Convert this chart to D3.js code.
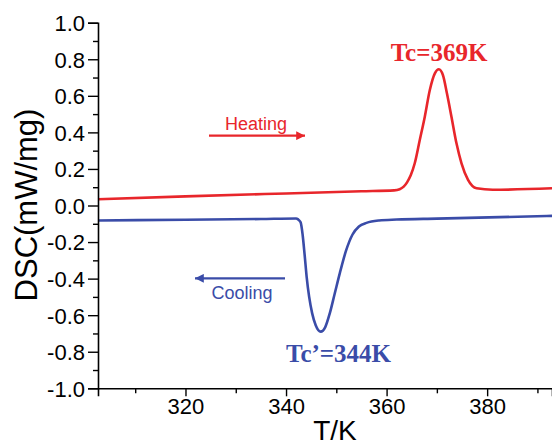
<!DOCTYPE html>
<html><head><meta charset="utf-8">
<script src="https://cdn.jsdelivr.net/npm/d3@7"></script>
<style>html,body{margin:0;padding:0;background:#fff;}svg{display:block;}</style>
</head><body>
<svg id="c" width="552" height="446"></svg>
<script>
// Heating curve (T in K, DSC in mW/mg)
const heatT = [302.6, 320, 340, 355, 361.5, 362.6, 363.4, 364.1, 364.8, 365.6, 366.6, 367.6, 368.6, 369.6, 370.4, 371.2, 372.0, 372.9, 373.9, 374.9, 376.2, 377.9, 381.1, 392.9];
const heatV = [0.034, 0.050, 0.066, 0.078, 0.083, 0.089, 0.103, 0.128, 0.165, 0.231, 0.358, 0.486, 0.632, 0.723, 0.745, 0.714, 0.614, 0.486, 0.34, 0.231, 0.14, 0.094, 0.086, 0.094];
// Cooling curve
const coolT = [302.6, 320, 335, 342.0, 342.4, 342.9, 343.3, 343.7, 344.1, 344.6, 345.2, 345.9, 346.9, 347.8, 348.7, 349.7, 350.7, 351.9, 353.2, 354.5, 356.0, 358.5, 362, 370, 392.9];
const coolV = [-0.082, -0.078, -0.074, -0.071, -0.076, -0.092, -0.16, -0.27, -0.39, -0.50, -0.59, -0.655, -0.69, -0.665, -0.59, -0.48, -0.37, -0.25, -0.16, -0.115, -0.095, -0.082, -0.077, -0.072, -0.057];
const xTicks = [320, 340, 360, 380];
const xMinor = [310, 330, 350, 370, 390];
const yTicks = [1.0, 0.8, 0.6, 0.4, 0.2, 0.0, -0.2, -0.4, -0.6, -0.8, -1.0];
const yMinor = [0.9, 0.7, 0.5, 0.3, 0.1, -0.1, -0.3, -0.5, -0.7, -0.9];

const svg = d3.select("#c");
const x = d3.scaleLinear().domain([302.6, 392.9]).range([98, 552]);
const y = d3.scaleLinear().domain([-1, 1]).range([388.3, 22.7]);
const red = "#e8262b", blue = "#3a4ca8";

const line = d3.line().x(d => x(d[0])).y(d => y(d[1])).curve(d3.curveMonotoneX);
svg.append("path").datum(heatT.map((t, i) => [t, heatV[i]])).attr("d", line)
  .attr("fill", "none").attr("stroke", red).attr("stroke-width", 2.6);
svg.append("path").datum(coolT.map((t, i) => [t, coolV[i]])).attr("d", line)
  .attr("fill", "none").attr("stroke", blue).attr("stroke-width", 2.6);

// axes
const fmt = d => d3.format(".1f")(d).replace("−", "-");
const yAx = svg.append("g").attr("transform", "translate(98,0)")
  .call(d3.axisLeft(y).tickValues(yTicks).tickFormat(fmt).tickSize(10).tickPadding(3));
svg.append("g").attr("transform", "translate(98,0)")
  .call(d3.axisLeft(y).tickValues(yMinor).tickFormat("").tickSize(5)).select(".domain").remove();
const xAx = svg.append("g").attr("transform", "translate(0,388.3)")
  .call(d3.axisBottom(x).tickValues(xTicks).tickFormat(d3.format("d")).tickSize(8).tickPadding(2));
svg.append("g").attr("transform", "translate(0,388.3)")
  .call(d3.axisBottom(x).tickValues(xMinor).tickFormat("").tickSize(5)).select(".domain").remove();
svg.selectAll(".domain").attr("stroke", "#000").attr("stroke-width", 1.6);
svg.selectAll(".tick line").attr("stroke", "#000").attr("stroke-width", 1.4);
svg.selectAll(".tick text").attr("font-family", "Liberation Sans, Arial, sans-serif")
  .attr("font-size", 22).attr("fill", "#000");
yAx.selectAll(".tick text").attr("dy", "0.36em");

// axis titles
svg.append("text").attr("x", 335).attr("y", 440).attr("text-anchor", "middle")
  .attr("font-family", "Liberation Sans, Arial, sans-serif").attr("font-size", 28).text("T/K");
svg.append("text").attr("transform", "translate(37,205) rotate(-90)").attr("text-anchor", "middle")
  .attr("font-family", "Liberation Sans, Arial, sans-serif").attr("font-size", 31).text("DSC(mW/mg)");

// annotations
svg.append("defs").html(
  `<marker id="ar" viewBox="0 0 10 10" refX="10" refY="5" markerWidth="6.5" markerHeight="4" orient="auto-start-reverse" markerUnits="strokeWidth"><path d="M0,0 L10,5 L0,10 z" fill="${red}"/></marker>
   <marker id="ab" viewBox="0 0 10 10" refX="10" refY="5" markerWidth="6.5" markerHeight="4" orient="auto-start-reverse" markerUnits="strokeWidth"><path d="M0,0 L10,5 L0,10 z" fill="${blue}"/></marker>`);
svg.append("line").attr("x1", 209).attr("y1", 135.7).attr("x2", 305).attr("y2", 135.7)
  .attr("stroke", red).attr("stroke-width", 2.2).attr("marker-end", "url(#ar)");
svg.append("text").attr("x", 256).attr("y", 129.5).attr("text-anchor", "middle")
  .attr("font-family", "Liberation Sans, Arial, sans-serif").attr("font-size", 18).attr("fill", red).text("Heating");
svg.append("line").attr("x1", 285).attr("y1", 278.3).attr("x2", 195).attr("y2", 278.3)
  .attr("stroke", blue).attr("stroke-width", 2.2).attr("marker-end", "url(#ab)");
svg.append("text").attr("x", 242).attr("y", 298.5).attr("text-anchor", "middle")
  .attr("font-family", "Liberation Sans, Arial, sans-serif").attr("font-size", 18).attr("fill", blue).text("Cooling");
svg.append("text").attr("x", 439).attr("y", 61).attr("text-anchor", "middle")
  .attr("font-family", "Liberation Serif, Times New Roman, serif").attr("font-weight", "bold")
  .attr("font-size", 25).attr("fill", red).text("Tc=369K");
svg.append("text").attr("x", 338.5).attr("y", 362).attr("text-anchor", "middle")
  .attr("font-family", "Liberation Serif, Times New Roman, serif").attr("font-weight", "bold")
  .attr("font-size", 25).attr("fill", blue).text("Tc\u2019=344K");
</script>
</body></html>
